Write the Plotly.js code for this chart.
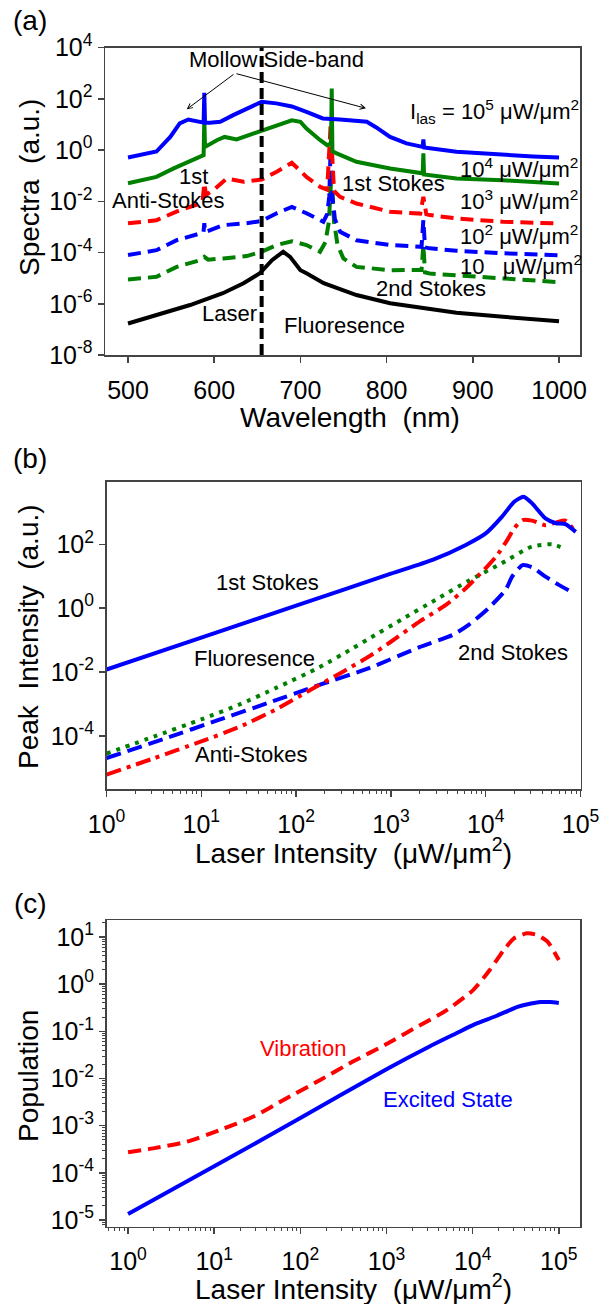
<!DOCTYPE html>
<html>
<head>
<meta charset="utf-8">
<script src="https://cdn.plot.ly/plotly-3.0.1.min.js"></script>
<style>html,body{margin:0;padding:0;background:#fff;}#chart{width:603px;height:1304px;}</style>
</head>
<body>
<div id="chart"></div>
<script>
// ---------------- Panel (a): spectra vs wavelength ----------------
const wlA105 = [500,533,549,560,570,580,587.7,588.5,589.3,595,607,622,638,655,672,690,707,726,746,777,788,804,823,841.8,842.6,843.4,881,935,970,1000];
const specA105 = [0.513,0.871,3.24,11.0,15.5,12.6,11.7,170,11.5,11.5,12.6,22.9,41.7,75.9,66.1,50.1,30.9,17.0,15.5,12.6,7.59,3.24,1.82,1.32,2.57,1.26,0.851,0.631,0.562,0.513];

const wlA104 = [500,533,553,572,587.7,588.5,589.3,603,612,626,641,655,672,690,700,707,723,731,735.5,736.3,737.1,742,765,804,841.8,842.6,843.4,850,881,935,1000];
const specA104 = [0.0501,0.0891,0.191,0.380,0.631,17.0,1.32,2.40,3.24,2.57,3.80,5.89,9.33,14.5,12.6,6.92,2.40,1.55,1.78,251,0.891,0.741,0.347,0.191,0.123,0.741,0.112,0.105,0.0776,0.0661,0.0490];

const wlA103 = [500,533,560,583.5,586.5,588.5,590.5,599,614.5,634,655,672.5,690,707,723,731,735,739,746,765,804,839,842.6,846,850,881,935,1000];
const specA103 = [1.38e-3,1.82e-3,4.47e-3,8.13e-3,1.0e-2,5.01e-2,1.78e-2,2.69e-2,7.76e-2,5.75e-2,7.08e-2,0.141,0.316,8.91e-2,3.63e-2,2.82e-2,9.33,2.51e-2,1.48e-2,8.13e-3,3.89e-3,3.31e-3,1.48e-2,3.16e-3,2.88e-3,2.14e-3,1.58e-3,1.35e-3];

const wlA102 = [500,533,556.5,583.5,587.5,588.5,589.5,610.6,637.7,655,672.5,690,707,726.6,731,733.5,735,737,740,746,765,804,840.5,842.6,844.5,850,881,935,1000];
const specA102 = [7.94e-5,1.23e-4,3.02e-4,5.62e-4,6.03e-4,1.38e-3,6.31e-4,1.17e-3,1.38e-3,1.70e-3,3.39e-3,6.03e-3,3.39e-3,1.58e-3,3.16e-3,1.58e-2,1.15,1.58e-2,2.0e-3,6.46e-4,3.02e-4,1.95e-4,1.66e-4,1.82e-3,1.58e-4,1.45e-4,1.17e-4,9.33e-5,7.76e-5];

const wlA10 = [500,533,556.5,583.5,588.5,593,610.6,637.7,655,672.5,690,707,722.7,729,733,736,739,743,749.8,765,804,840.5,842.6,844.5,850,881,935,1000];
const specA10 = [8.91e-6,1.12e-5,2.75e-5,5.01e-5,6.76e-5,5.25e-5,5.89e-5,7.24e-5,1.07e-4,1.95e-4,2.75e-4,1.95e-4,1.07e-4,2.51e-4,1.58e-3,0.123,1.58e-3,2.0e-4,5.89e-5,2.75e-5,2.04e-5,2.09e-5,1.95e-4,1.66e-5,1.51e-5,1.32e-5,9.77e-6,6.92e-6];

const wlFluo = [500,533,572,610,634,653,667,680,688,700,707,727,765,804,843,881,935,1000];
const specFluo = [1.70e-7,3.63e-7,8.91e-7,2.57e-6,6.31e-6,1.55e-5,5.01e-5,1.07e-4,6.76e-5,2.04e-5,1.55e-5,6.31e-6,2.19e-6,1.05e-6,6.61e-7,4.47e-7,3.09e-7,2.09e-7];

const laserWavelength = 655;

// ---------------- Panel (b): peak intensity vs laser intensity ----------------
const xB_stokes1 = [1,10,100,1000,2750,6170,10000,14800,20000,25100,30900,42700,55000,69200,89100];
const yB_stokes1 = [1.20e-2,0.120,1.20,12.0,32.4,95.5,219,724,2140,3090,1910,646,457,427,245];

const xB_anti = [1,3.16,10,25.1,63.1,138,316,589,1000,2000,3800,6170,8510,10700,12900,16600,20000,24500,30900,42700,55000,69200,85100];
const yB_anti = [6.17e-6,2.0e-5,6.76e-5,1.91e-4,7.08e-4,2.63e-3,1.05e-2,3.09e-2,8.91e-2,0.380,1.26,4.22,11.0,22.4,41.7,126,316,575,550,398,479,550,282];

const xB_fluo = [1,3.16,10,25.1,63.1,176,398,589,1320,2950,6610,14800,30900,50100,66100];
const yB_fluo = [2.82e-5,9.55e-5,3.31e-4,9.55e-4,3.31e-3,1.41e-2,5.62e-2,0.112,0.457,1.82,7.24,25.7,85.1,100,75.0];

const xB_stokes2 = [1,3.98,15.5,50.1,176,589,2000,4470,6610,10700,16200,19100,24500,30900,42700,58900,85100];
const yB_stokes2 = [2.04e-5,7.94e-5,3.24e-4,1.07e-3,3.98e-3,1.33e-2,6.03e-2,0.145,0.302,1.0,3.72,10.0,22.4,19.1,9.77,5.37,2.95];

// ---------------- Panel (c): population vs laser intensity ----------------
const xC_vib = [1,1.95,4.79,11.7,28.2,69.2,170,407,1000,2040,5010,10200,15800,22900,30200,42700,56200,74100,100000];
const yC_vib = [2.75e-4,3.31e-4,4.57e-4,8.13e-4,1.55e-3,3.80e-3,9.33e-3,2.29e-2,5.37e-2,0.112,0.282,0.759,2.0,5.25,9.33,12.0,11.0,7.94,3.24];

const xC_exc = [1,10,100,1000,3160,6310,10500,19100,33100,44700,61700,79400,100000];
const yC_exc = [1.35e-5,1.38e-4,1.45e-3,1.58e-2,4.79e-2,8.91e-2,0.141,0.214,0.331,0.380,0.417,0.417,0.398];

// ---------------- Tick labels ----------------
const tickValsWl = [500,600,700,800,900,1000];
const tickValsSpec = [1e-8,1e-6,1e-4,1e-2,1,1e2,1e4];
const tickTextSpec = ['10<sup>-8</sup>','10<sup>-6</sup>','10<sup>-4</sup>','10<sup>-2</sup>','10<sup>0</sup>','10<sup>2</sup>','10<sup>4</sup>'];
const tickValsLas = [1,10,100,1000,1e4,1e5];
const tickTextLas = ['10<sup>0</sup>','10<sup>1</sup>','10<sup>2</sup>','10<sup>3</sup>','10<sup>4</sup>','10<sup>5</sup>'];
const tickValsPeak = [1e-4,1e-2,1,1e2];
const tickTextPeak = ['10<sup>-4</sup>','10<sup>-2</sup>','10<sup>0</sup>','10<sup>2</sup>'];
const tickValsPop = [1e-5,1e-4,1e-3,1e-2,1e-1,1,10];
const tickTextPop = ['10<sup>-5</sup>','10<sup>-4</sup>','10<sup>-3</sup>','10<sup>-2</sup>','10<sup>-1</sup>','10<sup>0</sup>','10<sup>1</sup>'];

// ---------------- Styling / layout helpers ----------------
const W = 603, H = 1304;
const FONT = 'Liberation Sans, Arial, Helvetica, sans-serif';
const BLUE = '#0000ff', GREEN = '#008000', RED = '#ff0000', BLACK = '#000000';
const px = v => v / W;
const py = v => 1 - v / H;

function tr(x, y, color, dash, xa, ya, shape) {
  return {x: x, y: y, xaxis: xa, yaxis: ya, type: 'scatter', mode: 'lines',
    line: {color: color, width: 4, dash: dash, shape: shape || 'linear', smoothing: 0.6},
    hoverinfo: 'skip', showlegend: false};
}

const DASH_A = '13px,7px';
const traces = [
  tr(wlFluo, specFluo, BLACK, 'solid', 'x', 'y'),
  tr(wlA10, specA10, GREEN, DASH_A, 'x', 'y'),
  tr(wlA102, specA102, BLUE, DASH_A, 'x', 'y'),
  tr(wlA103, specA103, RED, DASH_A, 'x', 'y'),
  tr(wlA104, specA104, GREEN, 'solid', 'x', 'y'),
  tr(wlA105, specA105, BLUE, 'solid', 'x', 'y'),

  tr(xB_stokes2, yB_stokes2, BLUE, '15px,7px', 'x2', 'y2', 'spline'),
  tr(xB_fluo, yB_fluo, GREEN, '4px,6px', 'x2', 'y2', 'spline'),
  tr(xB_anti, yB_anti, RED, '15px,6px,4px,6px', 'x2', 'y2', 'spline'),
  tr(xB_stokes1, yB_stokes1, BLUE, 'solid', 'x2', 'y2', 'spline'),

  tr(xC_vib, yC_vib, RED, '13px,7px', 'x3', 'y3', 'spline'),
  tr(xC_exc, yC_exc, BLUE, 'solid', 'x3', 'y3', 'spline')
];

const AXC = '#444';
function ax(extra) {
  return Object.assign({
    showline: true, mirror: true, linecolor: AXC, linewidth: 1.5,
    ticks: 'outside', ticklen: 6, tickwidth: 1.5, tickcolor: AXC,
    showgrid: false, zeroline: false,
    tickfont: {family: FONT, size: 25, color: '#000'},
    fixedrange: true
  }, extra);
}
const minorLog = {ticks: 'outside', ticklen: 3, tickwidth: 1, tickcolor: AXC, dtick: 'D1', showgrid: false};

const layout = {
  width: W, height: H,
  margin: {l: 0, r: 0, t: 0, b: 0},
  paper_bgcolor: '#fff', plot_bgcolor: '#fff',
  showlegend: false,
  font: {family: FONT, color: '#000'},
  xaxis: ax({domain: [px(105), px(580)], range: [473.3, 1024.3], anchor: 'y',
             tickmode: 'array', tickvals: tickValsWl, ticklabelstandoff: 6}),
  yaxis: ax({domain: [py(355), py(47.5)], type: 'log', range: [-8, 4], anchor: 'x',
             tickmode: 'array', tickvals: tickValsSpec, ticktext: tickTextSpec}),
  xaxis2: ax({domain: [px(106.5), px(580.5)], type: 'log', range: [0, 5], anchor: 'y2',
              tickmode: 'array', tickvals: tickValsLas, ticktext: tickTextLas, minor: minorLog, ticklabelstandoff: 6}),
  yaxis2: ax({domain: [py(789), py(481.7)], type: 'log', range: [-5.66, 3.96], anchor: 'x2',
              tickmode: 'array', tickvals: tickValsPeak, ticktext: tickTextPeak}),
  xaxis3: ax({domain: [px(106.5), px(580)], type: 'log', range: [-0.25, 5.246], anchor: 'y3',
              tickmode: 'array', tickvals: tickValsLas, ticktext: tickTextLas, minor: minorLog, ticklabelstandoff: 6}),
  yaxis3: ax({domain: [py(1226.7), py(920)], type: 'log', range: [-5.14, 1.36], anchor: 'x3',
              tickmode: 'array', tickvals: tickValsPop, ticktext: tickTextPop, minor: minorLog}),
  shapes: [
    {type: 'line', xref: 'x', yref: 'paper', x0: laserWavelength, x1: laserWavelength,
     y0: py(355), y1: py(47.5), line: {color: BLACK, width: 4, dash: '11px,5px'}}
  ],
  annotations: []
};

function txt(t, x, y, opts) {
  opts = opts || {};
  layout.annotations.push(Object.assign({
    text: t, xref: 'paper', yref: 'paper', x: px(x), y: py(y),
    xanchor: 'center', yanchor: 'middle', showarrow: false,
    font: {family: FONT, size: opts.size || 22, color: opts.color || '#000'}
  }, opts.extra || {}));
}
function arrow(hx, hy, tx, ty) {
  layout.annotations.push({
    text: '', xref: 'paper', yref: 'paper', x: px(hx), y: py(hy),
    axref: 'pixel', ayref: 'pixel', ax: tx - hx, ay: ty - hy,
    showarrow: true, arrowhead: 5, arrowsize: 1, arrowwidth: 1, arrowcolor: '#000'
  });
}

// Panel labels
txt('(a)', 30, 21, {size: 28});
txt('(b)', 30, 458, {size: 28});
txt('(c)', 30, 903, {size: 28});

// Axis titles
txt('Spectra\u00a0\u00a0(a.u.)', 29, 188, {size: 28, extra: {textangle: -90}});
txt('Wavelength\u00a0\u00a0(nm)', 350, 417, {size: 28});
txt('Peak\u00a0\u00a0Intensity\u00a0\u00a0(a.u.)', 28, 637, {size: 28, extra: {textangle: -90}});
txt('Laser Intensity\u00a0\u00a0(\u03bcW/\u03bcm<sup>2</sup>)', 353, 851, {size: 28});
txt('Population', 28, 1076, {size: 28, extra: {textangle: -90}});
txt('Laser Intensity\u00a0\u00a0(\u03bcW/\u03bcm<sup>2</sup>)', 353, 1287, {size: 28});

// Panel (a) labels
txt('Mollow Side-band', 276.5, 60);
arrow(186.7, 109.3, 235, 73.3);
arrow(366, 108.3, 235, 73.3);
txt('I<sub>las</sub> = 10<sup>5</sup> \u03bcW/\u03bcm<sup>2</sup>', 408, 112, {extra: {xanchor: 'left'}});
txt('10<sup>4</sup> \u03bcW/\u03bcm<sup>2</sup>', 458, 168, {extra: {xanchor: 'left'}});
txt('10<sup>3</sup> \u03bcW/\u03bcm<sup>2</sup>', 458, 200, {extra: {xanchor: 'left'}});
txt('10<sup>2</sup> \u03bcW/\u03bcm<sup>2</sup>', 458, 235, {extra: {xanchor: 'left'}});
txt('10\u00a0\u00a0\u00a0\u03bcW/\u03bcm<sup>2</sup>', 458, 265, {extra: {xanchor: 'left'}});
txt('1st Stokes', 393, 184);
txt('2nd Stokes', 431, 288);
txt('1st', 193, 176);
txt('Anti-Stokes', 168, 200);
txt('Laser', 229, 313);
txt('Fluoresence', 344, 325);

// Panel (b) labels
txt('1st Stokes', 267, 583);
txt('Fluoresence', 254, 658);
txt('Anti-Stokes', 251, 754);
txt('2nd Stokes', 513, 652);

// Panel (c) labels
txt('Vibration', 303, 1048, {color: RED});
txt('Excited State', 448, 1099, {color: BLUE});

Plotly.newPlot('chart', traces, layout, {displayModeBar: false, staticPlot: true});
</script>
</body>
</html>
